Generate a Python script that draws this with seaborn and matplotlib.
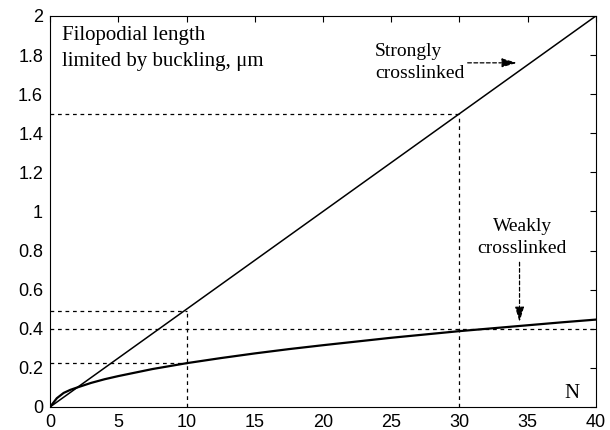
import numpy as np
import pandas as pd
import matplotlib
matplotlib.use("Agg")
import matplotlib.pyplot as plt
import seaborn as sns

# Number of filaments in the bundle
n_strong = [0, 40]
len_strong = [0.0, 2.0]

n_weak = [0, 0.5, 1, 1.5, 2, 3, 4, 5, 7.5, 10, 12.5, 15, 17.5, 20, 22.5, 25, 27.5, 30, 32.5, 35, 37.5, 40]
len_weak = [0.0, 0.045, 0.072, 0.088, 0.100, 0.123, 0.142, 0.158, 0.194, 0.224, 0.250, 0.274,
            0.296, 0.316, 0.335, 0.354, 0.371, 0.388, 0.403, 0.418, 0.433, 0.447]

x_ticks = [0, 5, 10, 15, 20, 25, 30, 35, 40]
y_ticks = [0, 0.2, 0.4, 0.6, 0.8, 1.0, 1.2, 1.4, 1.6, 1.8, 2.0]
y_tick_labels = ["0", "0.2", "0.4", "0.6", "0.8", "1", "1.2", "1.4", "1.6", "1.8", "2"]

sns.set_theme(style="white")
plt.rcParams["font.family"] = ["Liberation Sans", "DejaVu Sans"]

df = pd.concat([
    pd.DataFrame({"N": n_strong, "L": len_strong, "bundle": "Strongly crosslinked"}),
    pd.DataFrame({"N": n_weak, "L": len_weak, "bundle": "Weakly crosslinked"}),
])

fig = plt.figure(figsize=(6.1, 4.3), dpi=100)
ax = fig.add_axes([0.082, 0.0535, 0.895, 0.9095])

sns.lineplot(data=df[df.bundle == "Strongly crosslinked"], x="N", y="L", ax=ax,
             color="black", lw=1.1, legend=False)
sns.lineplot(data=df[df.bundle == "Weakly crosslinked"], x="N", y="L", ax=ax,
             color="black", lw=1.6, legend=False)

# Dashed guide lines
dash = dict(color="black", lw=0.9, ls=(0, (3, 3)))
ax.plot([0, 30], [1.5, 1.5], **dash)
ax.plot([30, 30], [0, 1.5], **dash)
ax.plot([0, 10], [0.49, 0.49], **dash)
ax.plot([10, 10], [0, 0.49], **dash)
ax.plot([0, 40], [0.4, 0.4], **dash)
ax.plot([0, 10], [0.224, 0.224], **dash)

ax.set_xlim(0, 40)
ax.set_ylim(0, 2)
ax.set_xticks(x_ticks)
ax.set_xticklabels([str(t) for t in x_ticks])
ax.set_yticks(y_ticks)
ax.set_yticklabels(y_tick_labels)
ax.set_xlabel("")
ax.set_ylabel("")
ax.tick_params(direction="in", length=4, width=0.8, top=True, right=True,
               labelsize=13, colors="black", pad=5)
for s in ax.spines.values():
    s.set_color("black")
    s.set_linewidth(0.8)

serif = dict(family=["Liberation Serif", "DejaVu Serif"], color="black")
ax.text(0.9, 1.90, "Filopodial length", va="center", ha="left", fontsize=15, **serif)
ax.text(0.9, 1.765, "limited by buckling, \u03bcm", va="center", ha="left", fontsize=15, **serif)
ax.text(38.8, 0.07, "N", va="center", ha="right", fontsize=15, **serif)

arrow = dict(arrowstyle="-|>,head_length=0.6,head_width=0.18", color="black", lw=0.9,
             ls=(0, (3, 2)), mutation_scale=15, shrinkA=0, shrinkB=0)

ax.text(23.8, 1.82, "Strongly", va="center", ha="left", fontsize=14, **serif)
ax.text(23.8, 1.705, "crosslinked", va="center", ha="left", fontsize=14, **serif)
ax.annotate("", xy=(34.2, 1.76), xytext=(30.6, 1.76), arrowprops=arrow)

ax.text(34.6, 0.925, "Weakly", va="center", ha="center", fontsize=14, **serif)
ax.text(34.6, 0.81, "crosslinked", va="center", ha="center", fontsize=14, **serif)
ax.annotate("", xy=(34.4, 0.435), xytext=(34.4, 0.74), arrowprops=arrow)

fig.savefig("out.png", dpi=100)
